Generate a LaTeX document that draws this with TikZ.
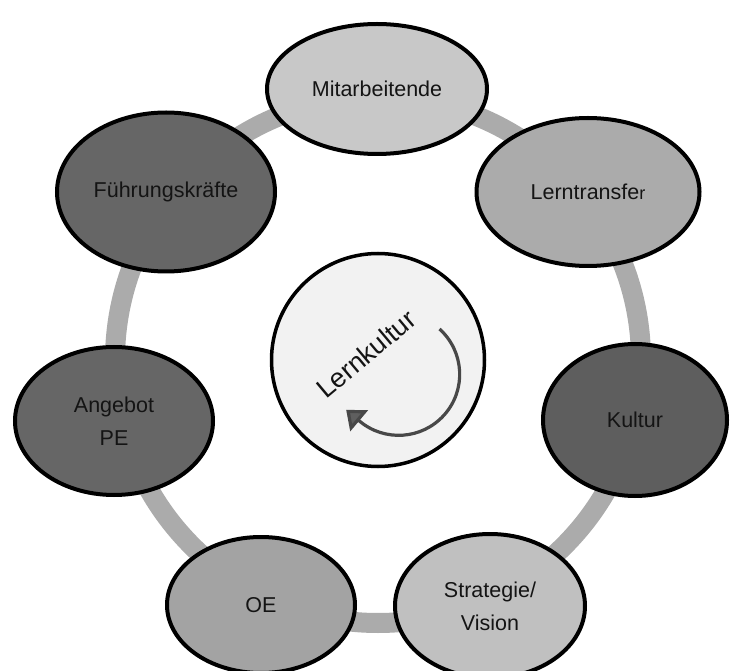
\documentclass[tikz,border=0pt]{standalone}
\usepackage{fontspec}
\setmainfont{Liberation Sans}
\usetikzlibrary{shapes.geometric,arrows.meta}

\definecolor{ringgray}{RGB}{171,171,171}
\definecolor{fillA}{RGB}{200,200,200}
\definecolor{fillB}{RGB}{171,171,171}
\definecolor{fillC}{RGB}{94,94,94}
\definecolor{fillD}{RGB}{192,192,192}
\definecolor{fillE}{RGB}{163,163,163}
\definecolor{fillF}{RGB}{102,102,102}
\definecolor{corefill}{RGB}{242,242,242}
\definecolor{arrowgray}{RGB}{72,72,72}
\definecolor{arrowfill}{RGB}{95,95,95}
\definecolor{labeltext}{RGB}{20,20,20}

\tikzset{
  topic/.style={ellipse, draw=black, line width=4pt, inner sep=0pt,
    text=labeltext, align=center,
    font=\fontsize{21.5}{33}\selectfont},
  core/.style={circle, draw=black, line width=3.5pt, fill=corefill,
    inner sep=0pt, minimum size=213pt},
  ring/.style={draw=ringgray, line width=20pt},
  turn/.style={draw=arrowgray, line width=3.2pt,
    -{Triangle[length=17pt,width=27pt,fill=arrowfill]}},
}

\begin{document}
\begin{tikzpicture}[x=1pt,y=1pt]
\useasboundingbox (0,0) rectangle (731,670);

% ring carrying the topics
\coordinate (hub) at (378,310);
\draw[ring] (hub) circle[radius=263];

% topics around the ring
\node[topic, fill=fillA, minimum width=220pt, minimum height=130pt] (mit) at (377,581) {Mitarbeitende};
\node[topic, fill=fillB, minimum width=223pt, minimum height=148pt] (lt) at (588,478) {Lerntransfe{\fontsize{18}{18}\selectfont r}};
\node[topic, fill=fillC, minimum width=184pt, minimum height=152pt] (kul) at (635,250) {Kultur};
\node[topic, fill=fillD, minimum width=190pt, minimum height=144pt] (stv) at (490,64) {Strategie/\\Vision};
\node[topic, fill=fillE, minimum width=188pt, minimum height=136pt] (oe) at (261,65) {OE};
\node[topic, fill=fillF, minimum width=198pt, minimum height=148pt] (ape) at (114,249) {Angebot\\PE};
\node[topic, fill=fillF, minimum width=218pt, minimum height=159pt] (fk) at (166,478) {Führungskräfte};

% central circle with rotating label and turning arrow
\node[core] (lk) at (378,310) {};
\node[rotate=40, text=labeltext, font=\fontsize{27}{27}\selectfont] (lktext) at (366,316) {Lernkultur};
\coordinate (arcstart) at (439.5,341);
\draw[turn] (arcstart) arc[start angle=48, end angle=-130, radius=61] -- ++(-13.3,11.2);
\end{tikzpicture}
\end{document}
